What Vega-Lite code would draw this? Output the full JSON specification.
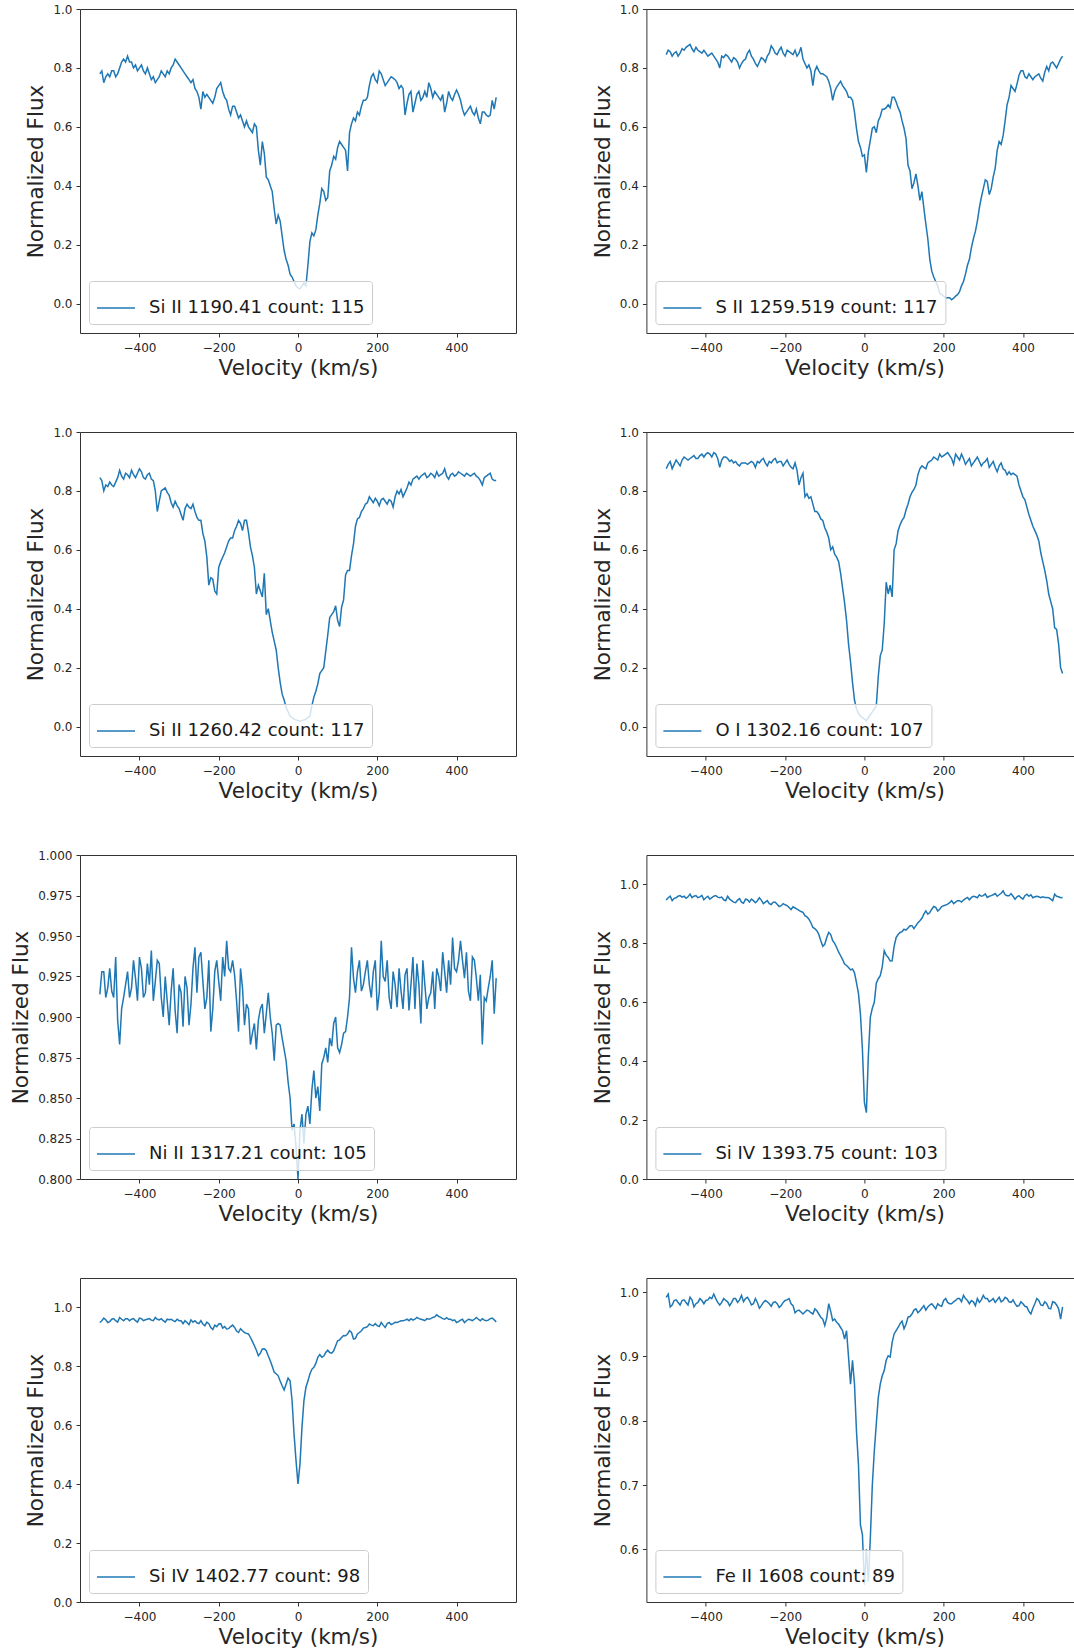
{
  "$schema": "https://vega.github.io/schema/vega-lite/v6.json",
  "background": "white",
  "padding": {"left": 10, "top": 2, "right": 0, "bottom": 0},
  "columns": 2,
  "spacing": {"row": 99, "column": 130.4},
  "bounds": "flush",
  "resolve": {"scale": {"color": "independent"}, "legend": {"color": "independent"}},
  "config": {
    "view": {"stroke": "#333333", "strokeWidth": 1},
    "line": {"strokeWidth": 1.5, "clip": true},
    "axis": {
      "domain": false, "grid": false,
      "labelFont": "DejaVu Sans", "labelFontSize": 12, "labelColor": "#262626",
      "tickColor": "#333333", "tickSize": 4, "tickWidth": 1,
      "titleFont": "DejaVu Sans", "titleFontSize": 21.5, "titleFontWeight": "normal", "titleColor": "#262626"
    },
    "axisX": {"labelPadding": 5, "titlePadding": 4, "labelFlush": false},
    "axisY": {"labelPadding": 4, "titlePadding": 5},
    "legend": {
      "orient": "bottom-left", "offset": 9, "padding": 7,
      "fillColor": "rgba(255,255,255,0.8)", "strokeColor": "#cccccc", "cornerRadius": 3,
      "symbolType": "stroke", "symbolSize": 1444, "symbolStrokeWidth": 1.5,
      "labelFont": "DejaVu Sans", "labelFontSize": 18, "labelColor": "#1a1a1a",
      "labelLimit": 600, "labelOffset": 13
    }
  },
  "datasets": {
    "spectra": [
      {"v":-500,"a":0.78,"b":0.845,"c":0.845,"d":0.875,"e":0.914,"f":0.947,"g":0.949,"h":0.992},
      {"v":-495,"a":0.79,"b":0.86,"c":0.835,"d":0.89,"e":0.928,"f":0.955,"g":0.955,"h":0.997},
      {"v":-490,"a":0.75,"b":0.855,"c":0.80,"d":0.90,"e":0.928,"f":0.96,"g":0.964,"h":0.977},
      {"v":-485,"a":0.77,"b":0.84,"c":0.82,"d":0.875,"e":0.912,"f":0.945,"g":0.958,"h":0.98},
      {"v":-480,"a":0.78,"b":0.85,"c":0.815,"d":0.89,"e":0.918,"f":0.953,"g":0.949,"h":0.987},
      {"v":-475,"a":0.77,"b":0.855,"c":0.83,"d":0.905,"e":0.93,"f":0.955,"g":0.952,"h":0.988},
      {"v":-470,"a":0.79,"b":0.84,"c":0.82,"d":0.895,"e":0.916,"f":0.96,"g":0.96,"h":0.984},
      {"v":-465,"a":0.79,"b":0.85,"c":0.815,"d":0.885,"e":0.912,"f":0.962,"g":0.962,"h":0.98},
      {"v":-460,"a":0.77,"b":0.865,"c":0.83,"d":0.905,"e":0.937,"f":0.957,"g":0.955,"h":0.987},
      {"v":-455,"a":0.78,"b":0.86,"c":0.845,"d":0.915,"e":0.898,"f":0.96,"g":0.95,"h":0.988},
      {"v":-450,"a":0.80,"b":0.87,"c":0.87,"d":0.91,"e":0.883,"f":0.953,"g":0.966,"h":0.984},
      {"v":-445,"a":0.82,"b":0.875,"c":0.85,"d":0.905,"e":0.905,"f":0.958,"g":0.96,"h":0.98},
      {"v":-440,"a":0.83,"b":0.88,"c":0.84,"d":0.91,"e":0.912,"f":0.967,"g":0.955,"h":0.992},
      {"v":-435,"a":0.82,"b":0.865,"c":0.86,"d":0.915,"e":0.92,"f":0.955,"g":0.962,"h":0.988},
      {"v":-430,"a":0.84,"b":0.855,"c":0.855,"d":0.92,"e":0.928,"f":0.96,"g":0.962,"h":0.977},
      {"v":-425,"a":0.82,"b":0.87,"c":0.845,"d":0.91,"e":0.912,"f":0.962,"g":0.955,"h":0.982},
      {"v":-420,"a":0.82,"b":0.86,"c":0.87,"d":0.91,"e":0.918,"f":0.955,"g":0.96,"h":0.984},
      {"v":-415,"a":0.80,"b":0.855,"c":0.855,"d":0.92,"e":0.935,"f":0.958,"g":0.962,"h":0.99},
      {"v":-410,"a":0.81,"b":0.85,"c":0.845,"d":0.925,"e":0.924,"f":0.963,"g":0.955,"h":0.987},
      {"v":-405,"a":0.79,"b":0.86,"c":0.86,"d":0.915,"e":0.91,"f":0.948,"g":0.95,"h":0.982},
      {"v":-400,"a":0.80,"b":0.85,"c":0.875,"d":0.925,"e":0.937,"f":0.955,"g":0.964,"h":0.987},
      {"v":-395,"a":0.81,"b":0.84,"c":0.865,"d":0.93,"e":0.93,"f":0.96,"g":0.962,"h":0.988},
      {"v":-390,"a":0.79,"b":0.845,"c":0.845,"d":0.925,"e":0.912,"f":0.95,"g":0.955,"h":0.992},
      {"v":-385,"a":0.78,"b":0.85,"c":0.84,"d":0.915,"e":0.915,"f":0.955,"g":0.958,"h":0.99},
      {"v":-380,"a":0.80,"b":0.84,"c":0.855,"d":0.93,"e":0.933,"f":0.96,"g":0.96,"h":0.997},
      {"v":-375,"a":0.78,"b":0.83,"c":0.86,"d":0.925,"e":0.92,"f":0.962,"g":0.962,"h":0.99},
      {"v":-370,"a":0.76,"b":0.82,"c":0.84,"d":0.91,"e":0.941,"f":0.957,"g":0.957,"h":0.984},
      {"v":-365,"a":0.77,"b":0.80,"c":0.835,"d":0.88,"e":0.91,"f":0.955,"g":0.955,"h":0.98},
      {"v":-360,"a":0.75,"b":0.84,"c":0.80,"d":0.905,"e":0.922,"f":0.957,"g":0.966,"h":0.984},
      {"v":-355,"a":0.76,"b":0.835,"c":0.73,"d":0.915,"e":0.935,"f":0.948,"g":0.96,"h":0.99},
      {"v":-350,"a":0.77,"b":0.845,"c":0.765,"d":0.915,"e":0.933,"f":0.945,"g":0.958,"h":0.987},
      {"v":-345,"a":0.79,"b":0.84,"c":0.80,"d":0.91,"e":0.912,"f":0.96,"g":0.962,"h":0.985},
      {"v":-340,"a":0.78,"b":0.83,"c":0.805,"d":0.90,"e":0.90,"f":0.95,"g":0.955,"h":0.979},
      {"v":-335,"a":0.77,"b":0.82,"c":0.81,"d":0.905,"e":0.925,"f":0.945,"g":0.95,"h":0.984},
      {"v":-330,"a":0.79,"b":0.835,"c":0.795,"d":0.895,"e":0.91,"f":0.94,"g":0.96,"h":0.99},
      {"v":-325,"a":0.78,"b":0.83,"c":0.785,"d":0.90,"e":0.895,"f":0.938,"g":0.958,"h":0.99},
      {"v":-320,"a":0.80,"b":0.82,"c":0.76,"d":0.89,"e":0.916,"f":0.947,"g":0.96,"h":0.984},
      {"v":-315,"a":0.81,"b":0.80,"c":0.745,"d":0.885,"e":0.93,"f":0.952,"g":0.955,"h":0.988},
      {"v":-310,"a":0.83,"b":0.815,"c":0.765,"d":0.895,"e":0.904,"f":0.94,"g":0.952,"h":0.995},
      {"v":-305,"a":0.82,"b":0.825,"c":0.75,"d":0.895,"e":0.89,"f":0.936,"g":0.96,"h":0.985},
      {"v":-300,"a":0.81,"b":0.83,"c":0.74,"d":0.895,"e":0.92,"f":0.95,"g":0.955,"h":0.99},
      {"v":-295,"a":0.80,"b":0.85,"c":0.72,"d":0.89,"e":0.915,"f":0.948,"g":0.955,"h":0.992},
      {"v":-290,"a":0.79,"b":0.86,"c":0.70,"d":0.895,"e":0.894,"f":0.94,"g":0.945,"h":0.987},
      {"v":-285,"a":0.78,"b":0.84,"c":0.74,"d":0.90,"e":0.925,"f":0.95,"g":0.955,"h":0.98},
      {"v":-280,"a":0.77,"b":0.83,"c":0.755,"d":0.895,"e":0.918,"f":0.945,"g":0.949,"h":0.982},
      {"v":-275,"a":0.76,"b":0.815,"c":0.745,"d":0.88,"e":0.895,"f":0.938,"g":0.942,"h":0.99},
      {"v":-270,"a":0.75,"b":0.805,"c":0.74,"d":0.90,"e":0.908,"f":0.945,"g":0.958,"h":0.984},
      {"v":-265,"a":0.76,"b":0.82,"c":0.755,"d":0.895,"e":0.93,"f":0.955,"g":0.95,"h":0.975},
      {"v":-260,"a":0.73,"b":0.835,"c":0.73,"d":0.905,"e":0.943,"f":0.947,"g":0.955,"h":0.979},
      {"v":-255,"a":0.72,"b":0.83,"c":0.71,"d":0.91,"e":0.915,"f":0.935,"g":0.948,"h":0.984},
      {"v":-250,"a":0.70,"b":0.82,"c":0.70,"d":0.895,"e":0.937,"f":0.94,"g":0.945,"h":0.987},
      {"v":-245,"a":0.66,"b":0.84,"c":0.70,"d":0.885,"e":0.94,"f":0.945,"g":0.955,"h":0.985},
      {"v":-240,"a":0.72,"b":0.85,"c":0.655,"d":0.90,"e":0.922,"f":0.935,"g":0.944,"h":0.982},
      {"v":-235,"a":0.70,"b":0.875,"c":0.63,"d":0.895,"e":0.905,"f":0.932,"g":0.938,"h":0.978},
      {"v":-230,"a":0.71,"b":0.865,"c":0.575,"d":0.905,"e":0.912,"f":0.94,"g":0.95,"h":0.984},
      {"v":-225,"a":0.70,"b":0.85,"c":0.48,"d":0.91,"e":0.935,"f":0.94,"g":0.945,"h":0.985},
      {"v":-220,"a":0.69,"b":0.845,"c":0.505,"d":0.895,"e":0.891,"f":0.933,"g":0.932,"h":0.982},
      {"v":-215,"a":0.68,"b":0.86,"c":0.50,"d":0.90,"e":0.905,"f":0.925,"g":0.925,"h":0.976},
      {"v":-210,"a":0.70,"b":0.87,"c":0.46,"d":0.90,"e":0.928,"f":0.928,"g":0.94,"h":0.979},
      {"v":-205,"a":0.73,"b":0.85,"c":0.45,"d":0.885,"e":0.935,"f":0.935,"g":0.935,"h":0.984},
      {"v":-200,"a":0.74,"b":0.84,"c":0.54,"d":0.895,"e":0.922,"f":0.931,"g":0.944,"h":0.987},
      {"v":-195,"a":0.75,"b":0.86,"c":0.56,"d":0.905,"e":0.91,"f":0.928,"g":0.945,"h":0.988},
      {"v":-190,"a":0.72,"b":0.855,"c":0.575,"d":0.89,"e":0.937,"f":0.922,"g":0.93,"h":0.99},
      {"v":-185,"a":0.70,"b":0.85,"c":0.59,"d":0.88,"e":0.925,"f":0.915,"g":0.935,"h":0.982},
      {"v":-180,"a":0.69,"b":0.845,"c":0.61,"d":0.875,"e":0.947,"f":0.924,"g":0.927,"h":0.979},
      {"v":-175,"a":0.66,"b":0.86,"c":0.63,"d":0.895,"e":0.93,"f":0.92,"g":0.928,"h":0.968},
      {"v":-170,"a":0.64,"b":0.84,"c":0.64,"d":0.87,"e":0.928,"f":0.916,"g":0.935,"h":0.971},
      {"v":-165,"a":0.67,"b":0.85,"c":0.64,"d":0.82,"e":0.935,"f":0.912,"g":0.94,"h":0.972},
      {"v":-160,"a":0.67,"b":0.87,"c":0.665,"d":0.845,"e":0.926,"f":0.908,"g":0.932,"h":0.969},
      {"v":-155,"a":0.65,"b":0.83,"c":0.68,"d":0.86,"e":0.91,"f":0.905,"g":0.92,"h":0.966},
      {"v":-150,"a":0.63,"b":0.815,"c":0.70,"d":0.78,"e":0.891,"f":0.894,"g":0.915,"h":0.969},
      {"v":-145,"a":0.64,"b":0.80,"c":0.69,"d":0.79,"e":0.93,"f":0.89,"g":0.928,"h":0.972},
      {"v":-140,"a":0.62,"b":0.81,"c":0.665,"d":0.775,"e":0.918,"f":0.882,"g":0.921,"h":0.971},
      {"v":-135,"a":0.60,"b":0.79,"c":0.70,"d":0.78,"e":0.895,"f":0.87,"g":0.915,"h":0.968},
      {"v":-130,"a":0.62,"b":0.74,"c":0.70,"d":0.755,"e":0.908,"f":0.854,"g":0.912,"h":0.966},
      {"v":-125,"a":0.60,"b":0.79,"c":0.66,"d":0.73,"e":0.905,"f":0.85,"g":0.91,"h":0.974},
      {"v":-120,"a":0.59,"b":0.805,"c":0.61,"d":0.73,"e":0.883,"f":0.843,"g":0.898,"h":0.971},
      {"v":-115,"a":0.58,"b":0.79,"c":0.58,"d":0.72,"e":0.89,"f":0.83,"g":0.885,"h":0.966},
      {"v":-110,"a":0.61,"b":0.78,"c":0.54,"d":0.705,"e":0.896,"f":0.809,"g":0.87,"h":0.961},
      {"v":-105,"a":0.60,"b":0.78,"c":0.45,"d":0.70,"e":0.88,"f":0.79,"g":0.855,"h":0.958},
      {"v":-100,"a":0.52,"b":0.775,"c":0.48,"d":0.675,"e":0.898,"f":0.797,"g":0.836,"h":0.948},
      {"v":-95,"a":0.47,"b":0.77,"c":0.46,"d":0.66,"e":0.905,"f":0.82,"g":0.845,"h":0.96},
      {"v":-90,"a":0.55,"b":0.755,"c":0.44,"d":0.64,"e":0.908,"f":0.837,"g":0.859,"h":0.982},
      {"v":-85,"a":0.51,"b":0.73,"c":0.52,"d":0.60,"e":0.89,"f":0.83,"g":0.86,"h":0.97},
      {"v":-80,"a":0.43,"b":0.69,"c":0.38,"d":0.61,"e":0.902,"f":0.809,"g":0.853,"h":0.956},
      {"v":-75,"a":0.42,"b":0.72,"c":0.40,"d":0.585,"e":0.915,"f":0.80,"g":0.835,"h":0.958},
      {"v":-70,"a":0.40,"b":0.735,"c":0.36,"d":0.575,"e":0.90,"f":0.786,"g":0.819,"h":0.953},
      {"v":-65,"a":0.38,"b":0.745,"c":0.32,"d":0.56,"e":0.89,"f":0.77,"g":0.80,"h":0.95},
      {"v":-60,"a":0.32,"b":0.755,"c":0.29,"d":0.52,"e":0.873,"f":0.758,"g":0.78,"h":0.945},
      {"v":-55,"a":0.27,"b":0.74,"c":0.26,"d":0.47,"e":0.895,"f":0.745,"g":0.775,"h":0.94},
      {"v":-50,"a":0.30,"b":0.73,"c":0.20,"d":0.42,"e":0.896,"f":0.73,"g":0.768,"h":0.927},
      {"v":-45,"a":0.28,"b":0.72,"c":0.15,"d":0.36,"e":0.895,"f":0.725,"g":0.75,"h":0.94},
      {"v":-40,"a":0.23,"b":0.70,"c":0.11,"d":0.28,"e":0.887,"f":0.718,"g":0.734,"h":0.899},
      {"v":-35,"a":0.18,"b":0.70,"c":0.09,"d":0.22,"e":0.88,"f":0.71,"g":0.72,"h":0.857},
      {"v":-30,"a":0.15,"b":0.69,"c":0.065,"d":0.15,"e":0.873,"f":0.713,"g":0.74,"h":0.894},
      {"v":-25,"a":0.13,"b":0.65,"c":0.05,"d":0.09,"e":0.86,"f":0.70,"g":0.76,"h":0.857},
      {"v":-20,"a":0.10,"b":0.595,"c":0.035,"d":0.06,"e":0.85,"f":0.667,"g":0.751,"h":0.784},
      {"v":-15,"a":0.09,"b":0.55,"c":0.03,"d":0.045,"e":0.83,"f":0.63,"g":0.684,"h":0.732},
      {"v":-10,"a":0.075,"b":0.53,"c":0.025,"d":0.035,"e":0.834,"f":0.56,"g":0.571,"h":0.638},
      {"v":-5,"a":0.06,"b":0.50,"c":0.022,"d":0.03,"e":0.82,"f":0.44,"g":0.48,"h":0.623},
      {"v":0,"a":0.053,"b":0.505,"c":0.02,"d":0.025,"e":0.80,"f":0.26,"g":0.401,"h":0.545},
      {"v":5,"a":0.05,"b":0.445,"c":0.018,"d":0.02,"e":0.83,"f":0.225,"g":0.469,"h":0.60},
      {"v":10,"a":0.06,"b":0.515,"c":0.02,"d":0.03,"e":0.84,"f":0.42,"g":0.593,"h":0.55},
      {"v":15,"a":0.07,"b":0.555,"c":0.022,"d":0.04,"e":0.822,"f":0.55,"g":0.684,"h":0.618},
      {"v":20,"a":0.06,"b":0.595,"c":0.025,"d":0.05,"e":0.84,"f":0.58,"g":0.729,"h":0.70},
      {"v":25,"a":0.13,"b":0.60,"c":0.03,"d":0.06,"e":0.845,"f":0.60,"g":0.75,"h":0.753},
      {"v":30,"a":0.21,"b":0.58,"c":0.035,"d":0.07,"e":0.834,"f":0.665,"g":0.774,"h":0.795},
      {"v":35,"a":0.24,"b":0.62,"c":0.07,"d":0.17,"e":0.855,"f":0.68,"g":0.79,"h":0.836},
      {"v":40,"a":0.23,"b":0.635,"c":0.10,"d":0.24,"e":0.867,"f":0.69,"g":0.797,"h":0.857},
      {"v":45,"a":0.25,"b":0.66,"c":0.12,"d":0.26,"e":0.85,"f":0.72,"g":0.81,"h":0.87},
      {"v":50,"a":0.30,"b":0.66,"c":0.145,"d":0.35,"e":0.857,"f":0.775,"g":0.831,"h":0.878},
      {"v":55,"a":0.34,"b":0.665,"c":0.18,"d":0.49,"e":0.842,"f":0.76,"g":0.84,"h":0.894},
      {"v":60,"a":0.39,"b":0.675,"c":0.19,"d":0.45,"e":0.871,"f":0.752,"g":0.831,"h":0.901},
      {"v":65,"a":0.38,"b":0.665,"c":0.20,"d":0.48,"e":0.875,"f":0.74,"g":0.835,"h":0.899},
      {"v":70,"a":0.35,"b":0.70,"c":0.255,"d":0.44,"e":0.881,"f":0.741,"g":0.847,"h":0.922},
      {"v":75,"a":0.36,"b":0.70,"c":0.31,"d":0.60,"e":0.872,"f":0.79,"g":0.855,"h":0.935},
      {"v":80,"a":0.45,"b":0.685,"c":0.37,"d":0.62,"e":0.887,"f":0.82,"g":0.847,"h":0.94},
      {"v":85,"a":0.47,"b":0.665,"c":0.38,"d":0.665,"e":0.882,"f":0.83,"g":0.845,"h":0.945},
      {"v":90,"a":0.50,"b":0.65,"c":0.39,"d":0.685,"e":0.896,"f":0.837,"g":0.853,"h":0.951},
      {"v":95,"a":0.49,"b":0.62,"c":0.41,"d":0.70,"e":0.90,"f":0.84,"g":0.87,"h":0.955},
      {"v":100,"a":0.53,"b":0.595,"c":0.36,"d":0.71,"e":0.881,"f":0.848,"g":0.887,"h":0.943},
      {"v":105,"a":0.55,"b":0.56,"c":0.34,"d":0.735,"e":0.878,"f":0.845,"g":0.89,"h":0.95},
      {"v":110,"a":0.54,"b":0.47,"c":0.405,"d":0.755,"e":0.883,"f":0.852,"g":0.898,"h":0.961},
      {"v":115,"a":0.53,"b":0.45,"c":0.43,"d":0.78,"e":0.89,"f":0.86,"g":0.905,"h":0.962},
      {"v":120,"a":0.52,"b":0.39,"c":0.515,"d":0.795,"e":0.891,"f":0.86,"g":0.904,"h":0.966},
      {"v":125,"a":0.45,"b":0.41,"c":0.53,"d":0.805,"e":0.90,"f":0.85,"g":0.91,"h":0.972},
      {"v":130,"a":0.58,"b":0.44,"c":0.53,"d":0.82,"e":0.912,"f":0.86,"g":0.921,"h":0.974},
      {"v":135,"a":0.61,"b":0.40,"c":0.58,"d":0.855,"e":0.943,"f":0.87,"g":0.915,"h":0.968},
      {"v":140,"a":0.63,"b":0.35,"c":0.62,"d":0.875,"e":0.924,"f":0.877,"g":0.893,"h":0.971},
      {"v":145,"a":0.62,"b":0.38,"c":0.68,"d":0.885,"e":0.915,"f":0.885,"g":0.895,"h":0.975},
      {"v":150,"a":0.65,"b":0.325,"c":0.705,"d":0.88,"e":0.928,"f":0.899,"g":0.91,"h":0.979},
      {"v":155,"a":0.64,"b":0.27,"c":0.71,"d":0.875,"e":0.935,"f":0.91,"g":0.915,"h":0.972},
      {"v":160,"a":0.67,"b":0.22,"c":0.73,"d":0.895,"e":0.916,"f":0.899,"g":0.921,"h":0.977},
      {"v":165,"a":0.69,"b":0.15,"c":0.74,"d":0.90,"e":0.92,"f":0.905,"g":0.93,"h":0.98},
      {"v":170,"a":0.69,"b":0.11,"c":0.755,"d":0.905,"e":0.928,"f":0.916,"g":0.932,"h":0.982},
      {"v":175,"a":0.70,"b":0.09,"c":0.76,"d":0.915,"e":0.935,"f":0.925,"g":0.935,"h":0.978},
      {"v":180,"a":0.74,"b":0.075,"c":0.78,"d":0.91,"e":0.92,"f":0.922,"g":0.944,"h":0.974},
      {"v":185,"a":0.77,"b":0.06,"c":0.77,"d":0.905,"e":0.912,"f":0.91,"g":0.94,"h":0.982},
      {"v":190,"a":0.78,"b":0.035,"c":0.76,"d":0.925,"e":0.928,"f":0.916,"g":0.938,"h":0.979},
      {"v":195,"a":0.76,"b":0.03,"c":0.775,"d":0.915,"e":0.935,"f":0.925,"g":0.945,"h":0.978},
      {"v":200,"a":0.75,"b":0.025,"c":0.765,"d":0.92,"e":0.904,"f":0.928,"g":0.938,"h":0.987},
      {"v":205,"a":0.79,"b":0.018,"c":0.75,"d":0.925,"e":0.915,"f":0.93,"g":0.935,"h":0.99},
      {"v":210,"a":0.78,"b":0.02,"c":0.77,"d":0.93,"e":0.947,"f":0.933,"g":0.949,"h":0.984},
      {"v":215,"a":0.76,"b":0.02,"c":0.775,"d":0.92,"e":0.925,"f":0.938,"g":0.94,"h":0.982},
      {"v":220,"a":0.74,"b":0.013,"c":0.765,"d":0.91,"e":0.922,"f":0.945,"g":0.932,"h":0.982},
      {"v":225,"a":0.75,"b":0.018,"c":0.755,"d":0.89,"e":0.935,"f":0.935,"g":0.945,"h":0.985},
      {"v":230,"a":0.76,"b":0.025,"c":0.77,"d":0.925,"e":0.912,"f":0.94,"g":0.949,"h":0.987},
      {"v":235,"a":0.77,"b":0.03,"c":0.765,"d":0.915,"e":0.905,"f":0.945,"g":0.942,"h":0.99},
      {"v":240,"a":0.765,"b":0.04,"c":0.745,"d":0.905,"e":0.928,"f":0.945,"g":0.945,"h":0.99},
      {"v":245,"a":0.76,"b":0.06,"c":0.78,"d":0.925,"e":0.92,"f":0.94,"g":0.95,"h":0.985},
      {"v":250,"a":0.75,"b":0.075,"c":0.80,"d":0.91,"e":0.906,"f":0.947,"g":0.949,"h":0.995},
      {"v":255,"a":0.73,"b":0.10,"c":0.79,"d":0.89,"e":0.93,"f":0.952,"g":0.952,"h":0.99},
      {"v":260,"a":0.74,"b":0.13,"c":0.805,"d":0.90,"e":0.916,"f":0.956,"g":0.955,"h":0.987},
      {"v":265,"a":0.73,"b":0.15,"c":0.78,"d":0.91,"e":0.905,"f":0.948,"g":0.955,"h":0.982},
      {"v":270,"a":0.64,"b":0.19,"c":0.795,"d":0.885,"e":0.926,"f":0.956,"g":0.957,"h":0.987},
      {"v":275,"a":0.68,"b":0.22,"c":0.81,"d":0.895,"e":0.93,"f":0.96,"g":0.96,"h":0.985},
      {"v":280,"a":0.71,"b":0.245,"c":0.83,"d":0.905,"e":0.904,"f":0.958,"g":0.955,"h":0.979},
      {"v":285,"a":0.72,"b":0.28,"c":0.82,"d":0.915,"e":0.92,"f":0.955,"g":0.962,"h":0.99},
      {"v":290,"a":0.65,"b":0.325,"c":0.84,"d":0.90,"e":0.937,"f":0.965,"g":0.957,"h":0.984},
      {"v":295,"a":0.68,"b":0.36,"c":0.845,"d":0.885,"e":0.905,"f":0.96,"g":0.96,"h":0.988},
      {"v":300,"a":0.71,"b":0.39,"c":0.85,"d":0.895,"e":0.933,"f":0.962,"g":0.966,"h":0.995},
      {"v":305,"a":0.72,"b":0.42,"c":0.84,"d":0.90,"e":0.92,"f":0.968,"g":0.962,"h":0.99},
      {"v":310,"a":0.69,"b":0.415,"c":0.85,"d":0.91,"e":0.896,"f":0.956,"g":0.96,"h":0.99},
      {"v":315,"a":0.70,"b":0.37,"c":0.855,"d":0.88,"e":0.935,"f":0.96,"g":0.958,"h":0.985},
      {"v":320,"a":0.72,"b":0.39,"c":0.86,"d":0.89,"e":0.92,"f":0.962,"g":0.955,"h":0.987},
      {"v":325,"a":0.70,"b":0.43,"c":0.845,"d":0.90,"e":0.905,"f":0.965,"g":0.962,"h":0.99},
      {"v":330,"a":0.75,"b":0.46,"c":0.85,"d":0.88,"e":0.912,"f":0.969,"g":0.96,"h":0.984},
      {"v":335,"a":0.73,"b":0.52,"c":0.86,"d":0.865,"e":0.915,"f":0.96,"g":0.962,"h":0.988},
      {"v":340,"a":0.70,"b":0.55,"c":0.855,"d":0.885,"e":0.928,"f":0.965,"g":0.966,"h":0.992},
      {"v":345,"a":0.72,"b":0.54,"c":0.845,"d":0.895,"e":0.905,"f":0.97,"g":0.968,"h":0.985},
      {"v":350,"a":0.71,"b":0.57,"c":0.865,"d":0.875,"e":0.93,"f":0.978,"g":0.975,"h":0.987},
      {"v":355,"a":0.70,"b":0.62,"c":0.85,"d":0.87,"e":0.925,"f":0.965,"g":0.97,"h":0.992},
      {"v":360,"a":0.69,"b":0.675,"c":0.855,"d":0.855,"e":0.916,"f":0.962,"g":0.966,"h":0.99},
      {"v":365,"a":0.71,"b":0.70,"c":0.86,"d":0.865,"e":0.94,"f":0.962,"g":0.962,"h":0.985},
      {"v":370,"a":0.65,"b":0.74,"c":0.875,"d":0.855,"e":0.928,"f":0.969,"g":0.96,"h":0.984},
      {"v":375,"a":0.68,"b":0.73,"c":0.85,"d":0.86,"e":0.915,"f":0.96,"g":0.965,"h":0.988},
      {"v":380,"a":0.72,"b":0.72,"c":0.84,"d":0.855,"e":0.935,"f":0.95,"g":0.96,"h":0.982},
      {"v":385,"a":0.70,"b":0.745,"c":0.855,"d":0.85,"e":0.92,"f":0.958,"g":0.96,"h":0.978},
      {"v":390,"a":0.69,"b":0.775,"c":0.86,"d":0.82,"e":0.949,"f":0.962,"g":0.955,"h":0.979},
      {"v":395,"a":0.71,"b":0.79,"c":0.85,"d":0.80,"e":0.93,"f":0.955,"g":0.958,"h":0.985},
      {"v":400,"a":0.725,"b":0.79,"c":0.855,"d":0.78,"e":0.928,"f":0.95,"g":0.949,"h":0.982},
      {"v":405,"a":0.71,"b":0.77,"c":0.865,"d":0.77,"e":0.935,"f":0.962,"g":0.952,"h":0.978},
      {"v":410,"a":0.69,"b":0.765,"c":0.86,"d":0.745,"e":0.947,"f":0.967,"g":0.957,"h":0.977},
      {"v":415,"a":0.66,"b":0.78,"c":0.855,"d":0.72,"e":0.935,"f":0.96,"g":0.96,"h":0.97},
      {"v":420,"a":0.64,"b":0.77,"c":0.85,"d":0.70,"e":0.924,"f":0.965,"g":0.949,"h":0.966},
      {"v":425,"a":0.65,"b":0.76,"c":0.86,"d":0.68,"e":0.94,"f":0.955,"g":0.955,"h":0.975},
      {"v":430,"a":0.66,"b":0.77,"c":0.855,"d":0.665,"e":0.916,"f":0.958,"g":0.96,"h":0.982},
      {"v":435,"a":0.67,"b":0.775,"c":0.85,"d":0.65,"e":0.91,"f":0.96,"g":0.958,"h":0.99},
      {"v":440,"a":0.65,"b":0.78,"c":0.855,"d":0.63,"e":0.937,"f":0.958,"g":0.955,"h":0.987},
      {"v":445,"a":0.64,"b":0.765,"c":0.86,"d":0.59,"e":0.935,"f":0.955,"g":0.96,"h":0.98},
      {"v":450,"a":0.66,"b":0.755,"c":0.85,"d":0.56,"e":0.924,"f":0.958,"g":0.966,"h":0.979},
      {"v":455,"a":0.63,"b":0.785,"c":0.845,"d":0.53,"e":0.91,"f":0.956,"g":0.96,"h":0.985},
      {"v":460,"a":0.61,"b":0.805,"c":0.835,"d":0.495,"e":0.926,"f":0.956,"g":0.955,"h":0.982},
      {"v":465,"a":0.65,"b":0.79,"c":0.82,"d":0.45,"e":0.883,"f":0.955,"g":0.962,"h":0.975},
      {"v":470,"a":0.65,"b":0.815,"c":0.845,"d":0.425,"e":0.912,"f":0.95,"g":0.957,"h":0.974},
      {"v":475,"a":0.64,"b":0.82,"c":0.85,"d":0.40,"e":0.91,"f":0.945,"g":0.955,"h":0.985},
      {"v":480,"a":0.635,"b":0.81,"c":0.855,"d":0.335,"e":0.918,"f":0.967,"g":0.957,"h":0.984},
      {"v":485,"a":0.64,"b":0.80,"c":0.86,"d":0.33,"e":0.925,"f":0.96,"g":0.962,"h":0.98},
      {"v":490,"a":0.69,"b":0.815,"c":0.84,"d":0.28,"e":0.935,"f":0.958,"g":0.964,"h":0.974},
      {"v":495,"a":0.66,"b":0.83,"c":0.835,"d":0.20,"e":0.902,"f":0.955,"g":0.958,"h":0.958},
      {"v":500,"a":0.70,"b":0.84,"c":0.835,"d":0.18,"e":0.924,"f":0.956,"g":0.951,"h":0.977}
    ]
  },
  "concat": [
    {
      "data": {"name": "spectra"}, "width": 436, "height": 324, "mark": "line",
      "encoding": {
        "x": {"field": "v", "type": "quantitative", "scale": {"domain": [-550, 550], "nice": false, "zero": false}, "axis": {"values": [-400, -200, 0, 200, 400], "title": "Velocity (km/s)"}},
        "y": {"field": "a", "type": "quantitative", "scale": {"domain": [-0.1, 1.0], "nice": false, "zero": false}, "axis": {"values": [0, 0.2, 0.4, 0.6, 0.8, 1.0], "format": ".1f", "title": "Normalized Flux"}},
        "color": {"datum": "Si II 1190.41 count: 115", "type": "nominal", "scale": {"range": ["#1f77b4"]}, "legend": {"title": null}}
      }
    },
    {
      "data": {"name": "spectra"}, "width": 436, "height": 324, "mark": "line",
      "encoding": {
        "x": {"field": "v", "type": "quantitative", "scale": {"domain": [-550, 550], "nice": false, "zero": false}, "axis": {"values": [-400, -200, 0, 200, 400], "title": "Velocity (km/s)"}},
        "y": {"field": "b", "type": "quantitative", "scale": {"domain": [-0.1, 1.0], "nice": false, "zero": false}, "axis": {"values": [0, 0.2, 0.4, 0.6, 0.8, 1.0], "format": ".1f", "title": "Normalized Flux"}},
        "color": {"datum": "S II 1259.519 count: 117", "type": "nominal", "scale": {"range": ["#1f77b4"]}, "legend": {"title": null}}
      }
    },
    {
      "data": {"name": "spectra"}, "width": 436, "height": 324, "mark": "line",
      "encoding": {
        "x": {"field": "v", "type": "quantitative", "scale": {"domain": [-550, 550], "nice": false, "zero": false}, "axis": {"values": [-400, -200, 0, 200, 400], "title": "Velocity (km/s)"}},
        "y": {"field": "c", "type": "quantitative", "scale": {"domain": [-0.1, 1.0], "nice": false, "zero": false}, "axis": {"values": [0, 0.2, 0.4, 0.6, 0.8, 1.0], "format": ".1f", "title": "Normalized Flux"}},
        "color": {"datum": "Si II 1260.42 count: 117", "type": "nominal", "scale": {"range": ["#1f77b4"]}, "legend": {"title": null}}
      }
    },
    {
      "data": {"name": "spectra"}, "width": 436, "height": 324, "mark": "line",
      "encoding": {
        "x": {"field": "v", "type": "quantitative", "scale": {"domain": [-550, 550], "nice": false, "zero": false}, "axis": {"values": [-400, -200, 0, 200, 400], "title": "Velocity (km/s)"}},
        "y": {"field": "d", "type": "quantitative", "scale": {"domain": [-0.1, 1.0], "nice": false, "zero": false}, "axis": {"values": [0, 0.2, 0.4, 0.6, 0.8, 1.0], "format": ".1f", "title": "Normalized Flux"}},
        "color": {"datum": "O I 1302.16 count: 107", "type": "nominal", "scale": {"range": ["#1f77b4"]}, "legend": {"title": null}}
      }
    },
    {
      "data": {"name": "spectra"}, "width": 436, "height": 324, "mark": "line",
      "encoding": {
        "x": {"field": "v", "type": "quantitative", "scale": {"domain": [-550, 550], "nice": false, "zero": false}, "axis": {"values": [-400, -200, 0, 200, 400], "title": "Velocity (km/s)"}},
        "y": {"field": "e", "type": "quantitative", "scale": {"domain": [0.8, 1.0], "nice": false, "zero": false}, "axis": {"values": [0.8, 0.825, 0.85, 0.875, 0.9, 0.925, 0.95, 0.975, 1.0], "format": ".3f", "title": "Normalized Flux"}},
        "color": {"datum": "Ni II 1317.21 count: 105", "type": "nominal", "scale": {"range": ["#1f77b4"]}, "legend": {"title": null}}
      }
    },
    {
      "data": {"name": "spectra"}, "width": 436, "height": 324, "mark": "line",
      "encoding": {
        "x": {"field": "v", "type": "quantitative", "scale": {"domain": [-550, 550], "nice": false, "zero": false}, "axis": {"values": [-400, -200, 0, 200, 400], "title": "Velocity (km/s)"}},
        "y": {"field": "f", "type": "quantitative", "scale": {"domain": [0, 1.1], "nice": false, "zero": false}, "axis": {"values": [0, 0.2, 0.4, 0.6, 0.8, 1.0], "format": ".1f", "title": "Normalized Flux"}},
        "color": {"datum": "Si IV 1393.75 count: 103", "type": "nominal", "scale": {"range": ["#1f77b4"]}, "legend": {"title": null}}
      }
    },
    {
      "data": {"name": "spectra"}, "width": 436, "height": 324, "mark": "line",
      "encoding": {
        "x": {"field": "v", "type": "quantitative", "scale": {"domain": [-550, 550], "nice": false, "zero": false}, "axis": {"values": [-400, -200, 0, 200, 400], "title": "Velocity (km/s)"}},
        "y": {"field": "g", "type": "quantitative", "scale": {"domain": [0, 1.1], "nice": false, "zero": false}, "axis": {"values": [0, 0.2, 0.4, 0.6, 0.8, 1.0], "format": ".1f", "title": "Normalized Flux"}},
        "color": {"datum": "Si IV 1402.77 count: 98", "type": "nominal", "scale": {"range": ["#1f77b4"]}, "legend": {"title": null}}
      }
    },
    {
      "data": {"name": "spectra"}, "width": 436, "height": 324, "mark": "line",
      "encoding": {
        "x": {"field": "v", "type": "quantitative", "scale": {"domain": [-550, 550], "nice": false, "zero": false}, "axis": {"values": [-400, -200, 0, 200, 400], "title": "Velocity (km/s)"}},
        "y": {"field": "h", "type": "quantitative", "scale": {"domain": [0.518, 1.022], "nice": false, "zero": false}, "axis": {"values": [0.6, 0.7, 0.8, 0.9, 1.0], "format": ".1f", "title": "Normalized Flux"}},
        "color": {"datum": "Fe II 1608 count: 89", "type": "nominal", "scale": {"range": ["#1f77b4"]}, "legend": {"title": null}}
      }
    }
  ]
}
